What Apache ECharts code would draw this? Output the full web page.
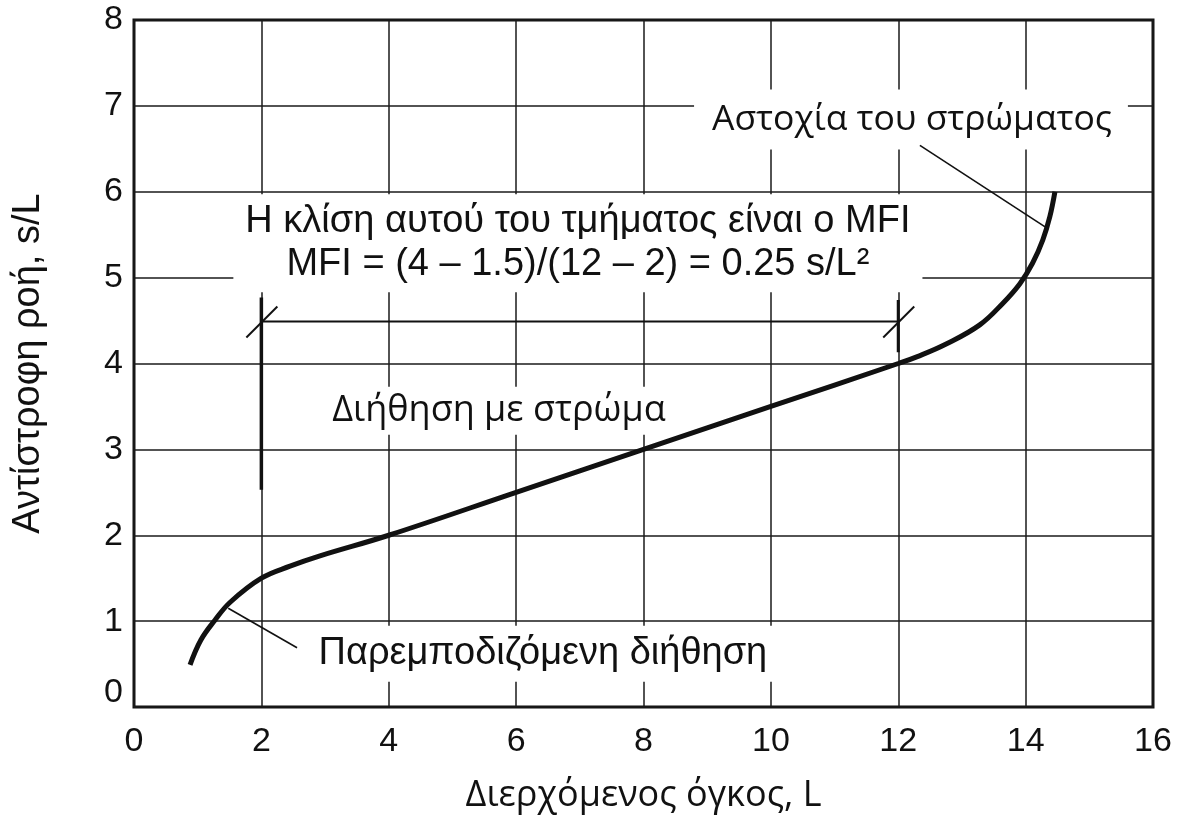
<!DOCTYPE html>
<html><head><meta charset="utf-8">
<script src="https://cdn.jsdelivr.net/npm/echarts@6/dist/echarts.min.js"></script>
<style>html,body{margin:0;padding:0;background:#fff}#c{width:1177px;height:819px}</style>
</head><body><div id="c"></div>
<script>
// ---- axes ----
const xMin = 0, xMax = 16, xInterval = 2;
const yMin = 0, yMax = 8, yInterval = 1;
const xAxisName = 'Διερχόμενος όγκος, L';
const yAxisName = 'Αντίστροφη ροή, s/L';

// ---- curve (filtrate volume L, inverse flow s/L) ----
const curveX = [0.88, 1.05, 1.27, 1.51, 2.0, 2.45, 2.92, 4.0, 6.0, 8.0, 10.0, 12.0, 12.3, 12.76, 13.28, 13.64, 13.91, 14.11, 14.27, 14.38, 14.46];
const curveY = [0.49, 0.78, 1.01, 1.22, 1.5, 1.64, 1.76, 2.0, 2.5, 3.0, 3.5, 4.0, 4.08, 4.23, 4.45, 4.70, 4.93, 5.17, 5.44, 5.71, 6.0];

// ---- annotation texts ----
const slopeLines = ['Η κλίση αυτού του τμήματος είναι ο MFI', 'MFI = (4 – 1.5)/(12 – 2) = 0.25 s/L²'];
const failText = 'Αστοχία του στρώματος';
const cakeText = 'Διήθηση με στρώμα';
const blockText = 'Παρεμποδιζόμενη διήθηση';

// ---- annotation anchors (data space) ----
const slopeAnchor = [6.97, 5.40];
const failAnchor = [12.2, 6.84];
const cakeAnchor = [5.73, 3.45];
const blockAnchor = [6.42, 0.62];
const dimLine = [[2, 4.49], [12, 4.49]];
const markerLeft = [[2, 4.77], [2, 2.53]];
const markerRight = [[12, 4.74], [12, 4.13]];
const failPointer = [[12.34, 6.54], [14.33, 5.58]];
const blockPointer = [[1.48, 1.15], [2.56, 0.69]];

const curveData = curveX.map((x, i) => [x, curveY[i]]);
const INK = '#111';
const chart = echarts.init(document.getElementById('c'), null, {renderer: 'canvas'});

function annoLine(data, w, z) {
  return {type: 'line', data: data, symbol: 'none', silent: true, z: z || 8,
    lineStyle: {color: INK, width: w}, animation: false};
}

chart.setOption({
  animation: false,
  backgroundColor: '#fff',
  grid: {left: 134, right: 24, top: 20, bottom: 112, show: true, borderColor: INK, borderWidth: 3, backgroundColor: 'transparent'},
  xAxis: {
    type: 'value', min: xMin, max: xMax, interval: xInterval,
    name: xAxisName, nameLocation: 'middle', nameGap: 71,
    nameTextStyle: {fontFamily: 'Open Sans', fontSize: 36, color: INK},
    axisLine: {show: false}, axisTick: {show: false},
    axisLabel: {margin: 18, fontFamily: 'Liberation Sans', fontSize: 34, color: INK},
    splitLine: {show: true, lineStyle: {color: '#1a1a1a', width: 1.5}}
  },
  yAxis: {
    type: 'value', min: yMin, max: yMax, interval: yInterval,
    name: yAxisName, nameLocation: 'middle', nameGap: 86,
    nameTextStyle: {fontFamily: 'Liberation Sans', fontSize: 38, color: INK},
    axisLine: {show: false}, axisTick: {show: false},
    axisLabel: {margin: 11, fontFamily: 'Liberation Sans', fontSize: 34, color: INK,
      formatter: v => v === 0 ? '{z|0}' : String(v),
      rich: {z: {fontFamily: 'Liberation Sans', fontSize: 34, color: INK, padding: [0, 0, 28, 0]}}},
    splitLine: {show: true, lineStyle: {color: '#1a1a1a', width: 1.5}}
  },
  series: [
    {type: 'line', data: curveData, symbol: 'none', smooth: 0.4, z: 10,
      lineStyle: {color: INK, width: 5}},
    annoLine(dimLine, 2),
    annoLine(markerLeft, 3.5),
    annoLine(markerRight, 3),
    annoLine(failPointer, 1.6),
    annoLine(blockPointer, 1.6)
  ]
});

function px(p) { return chart.convertToPixel({gridIndex: 0}, p); }

function textEl(text, anchor, font, size, pad) {
  const p = px(anchor);
  return {
    type: 'text', z: 5, silent: true,
    style: {
      text: text, x: p[0], y: p[1], fill: INK,
      fontFamily: font, fontSize: size,
      align: 'center', verticalAlign: 'middle',
      textAlign: 'center', textVerticalAlign: 'middle',
      backgroundColor: '#fff', padding: pad
    }
  };
}

function slash(pt) {
  const p = px(pt);
  return {type: 'line', z: 9, silent: true,
    shape: {x1: p[0] - 15, y1: p[1] + 16, x2: p[0] + 16, y2: p[1] - 15},
    style: {stroke: INK, lineWidth: 2}};
}

const slopeEl = textEl(slopeLines.join('\n'), slopeAnchor, 'Liberation Sans', 38, [4, 12, 8, 12]);
slopeEl.style.lineHeight = 43;

chart.setOption({
  graphic: [
    slopeEl,
    textEl(failText, failAnchor, 'Open Sans', 35.5, [13, 16, 11, 18]),
    textEl(cakeText, cakeAnchor, 'Open Sans', 36, [6, 10, 6, 10]),
    textEl(blockText, blockAnchor, 'Liberation Sans', 38, [6, 10, 12, 10]),
    slash(dimLine[0]),
    slash(dimLine[1])
  ]
});
</script>
</body></html>
